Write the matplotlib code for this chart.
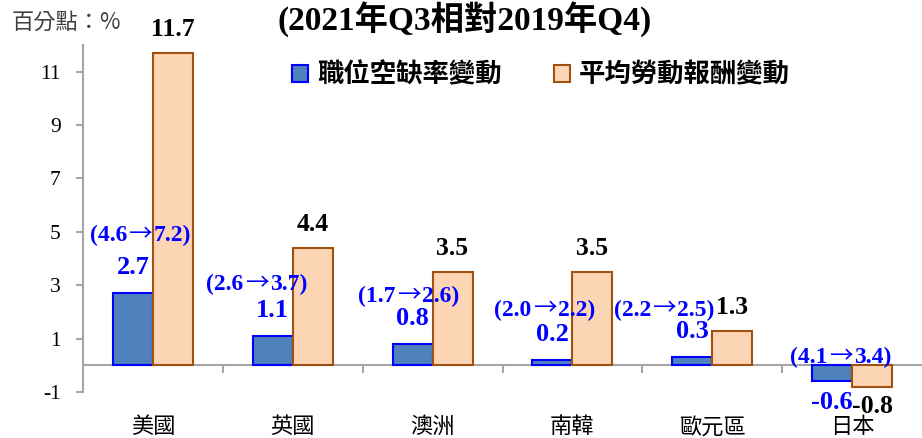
import matplotlib
matplotlib.use('Agg')
import matplotlib.pyplot as plt
from matplotlib.patches import Patch
import numpy as np

# data
countries = ['美國', '英國', '澳洲', '南韓', '歐元區', '日本']
vacancy_chg = [2.7, 1.1, 0.8, 0.2, 0.3, -0.6]
wage_chg = [11.7, 4.4, 3.5, 3.5, 1.3, -0.8]
vacancy_from_to = ['(4.6→7.2)', '(2.6→3.7)', '(1.7→2.6)', '(2.0→2.2)', '(2.2→2.5)', '(4.1→3.4)']
yticks = [-1, 1, 3, 5, 7, 9, 11]

# where the "(a→b)" notes sit (data coords, x relative to category centre)
note_x = [-0.09, -0.257, -0.17, -0.2, -0.343, -0.08]
note_y = [4.94, 3.1, 2.65, 2.15, 2.15, 0.37]

serif = ['Liberation Serif', 'DejaVu Sans', 'Noto Sans CJK TC']
cjk = ['Noto Sans CJK TC', 'DejaVu Sans']

blue_fill = '#4F81BD'
blue_edge = '#0000FF'
org_fill = '#FCD5B5'
org_edge = '#A0500F'
grey = '#A6A6A6'

fig = plt.figure(figsize=(9.22, 4.38), dpi=100)
ax = fig.add_axes([83/922, 1 - 392/438, 1 - 83/922, (392 - 45)/438])

x = np.arange(len(countries))
w = 0.2857
ax.bar(x - w/2, vacancy_chg, w, color=blue_fill, edgecolor=blue_edge, linewidth=1.5, zorder=3)
ax.bar(x + w/2, wage_chg, w, color=org_fill, edgecolor=org_edge, linewidth=1.5, zorder=3)

ax.set_xlim(-0.5, 5.5)
ax.set_ylim(-1, 12)

# value labels
for i in range(len(countries)):
    v = vacancy_chg[i]
    yy = v + 0.95 if v >= 0 else v - 0.78
    ax.text(x[i] - w/2, yy, f'{v:.1f}', color='#0000FF', fontsize=19, fontweight='bold',
            family=serif, ha='center', va='center', zorder=5)
    v = wage_chg[i]
    yy = v + 0.87 if v >= 0 else v - 0.73
    ax.text(x[i] + w/2, yy, f'{v:.1f}', color='black', fontsize=18.5, fontweight='bold',
            family=serif, ha='center', va='center', zorder=5, clip_on=False)

    # "(a→b)" note: numbers in serif, the arrow from the CJK font (wider)
    left, right = vacancy_from_to[i].split('→')
    nx, ny = x[i] + note_x[i], note_y[i] - 0.29
    ax.text(nx, ny, '→', color='#0000FF', fontsize=17, family=cjk,
            ha='center', va='baseline', zorder=5)
    ax.annotate(left, (nx, ny), xytext=(-9.5, 0), textcoords='offset points', color='#0000FF',
                fontsize=17, fontweight='bold', family=serif, ha='right', va='baseline', zorder=5)
    ax.annotate(right, (nx, ny), xytext=(9.5, 0), textcoords='offset points', color='#0000FF',
                fontsize=17, fontweight='bold', family=serif, ha='left', va='baseline', zorder=5)

# axes styling
for s in ['top', 'right']:
    ax.spines[s].set_visible(False)
ax.spines['bottom'].set_position(('data', 0))
ax.spines['bottom'].set_color(grey)
ax.spines['left'].set_color(grey)
ax.spines['bottom'].set_linewidth(1.5)
ax.spines['left'].set_linewidth(1.5)

ax.set_yticks(yticks)
ax.set_yticklabels([str(t) for t in yticks], family=serif, fontsize=15.5)
ax.tick_params(axis='y', direction='out', length=5, width=1.5, color=grey, pad=11)

ax.set_xticks(x)
ax.set_xticklabels(countries, family=cjk, fontsize=16)
ax.tick_params(axis='x', which='major', length=0, pad=36)
ax.set_xticks(x[:-1] + 0.5, minor=True)
ax.tick_params(axis='x', which='minor', direction='out', length=6, width=1.5, color=grey)

# legend
handles = [Patch(facecolor=blue_fill, edgecolor=blue_edge, linewidth=1.5, label='職位空缺率變動'),
           Patch(facecolor=org_fill, edgecolor=org_edge, linewidth=1.5, label='平均勞動報酬變動')]
ax.legend(handles=handles, ncol=2, frameon=False, prop={'family': cjk, 'size': 19, 'weight': 'bold'},
          handlelength=0.6, handleheight=0.6, handletextpad=0.35, columnspacing=2.0,
          loc='center', bbox_to_anchor=((541 - 83)/839, (392 - 75)/347))

# title and unit
fig.text(465/922, 1 - 30/438, '(2021年Q3相對2019年Q4)', family=serif, fontsize=24,
         fontweight='bold', ha='center', va='baseline')
fig.text(12/922, 1 - 22/438, '百分點：%', family=cjk, fontsize=16, color='#404040',
         ha='left', va='center')

fig.savefig('out.png', dpi=100)
